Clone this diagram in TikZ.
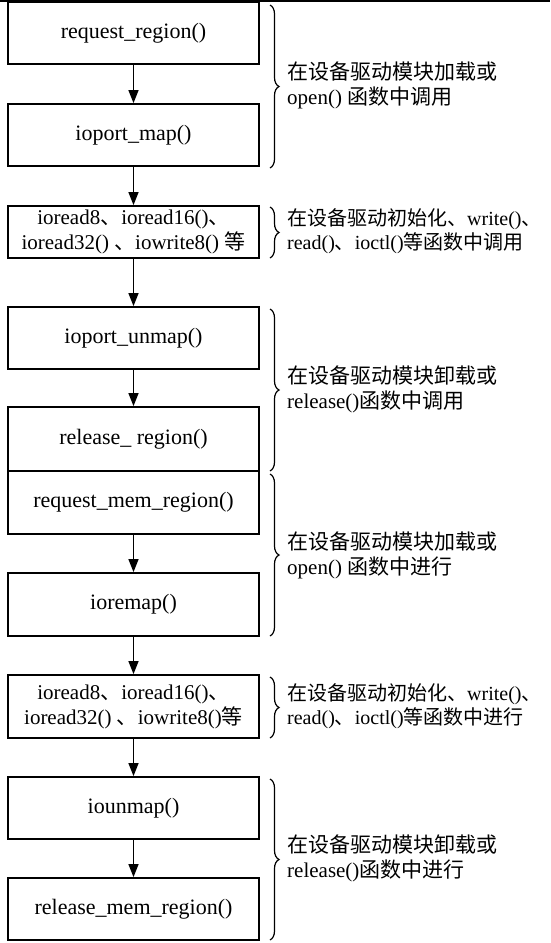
\documentclass[tikz,border=0pt]{standalone}
\usepackage{fontspec}
\setmainfont{Liberation Serif}
\newfontfamily\cjkfont{Noto Sans CJK SC}
\newcommand\zh[1]{{\cjkfont #1}}
\usetikzlibrary{arrows.meta,decorations.pathreplacing}

\begin{document}
\begin{tikzpicture}[x=1pt,y=-1pt,
  fnbox/.style={draw,line width=1.8pt,minimum width=251pt,inner sep=0pt,
                align=center,font=\fontsize{22}{25}\selectfont},
  twoline/.style={font=\fontsize{21}{25}\selectfont},
  flow/.style={line width=1.3pt,-{Triangle[width=10pt,length=13pt]}},
  grp/.style={decorate,decoration={brace,amplitude=9pt},line width=1.2pt},
  note/.style={anchor=west,align=left,inner sep=0pt,
               font=\fontsize{21}{25}\selectfont},
  widenote/.style={font=\fontsize{20}{24}\selectfont}]
\useasboundingbox (0,0) rectangle (550,943);

% rule along the top edge
\coordinate (tl) at (0,1);
\coordinate (tr) at (550,1);
\draw[line width=2pt] (tl) -- (tr);

% I/O port sequence
\node[fnbox,minimum height=62pt] (b1) at (133.5,33) {request\_region()};
\node[fnbox,minimum height=62pt] (b2) at (133.5,135) {ioport\_map()};
\node[fnbox,twoline,minimum height=52pt] (b3) at (133.5,232)
  {ioread8\zh{、}ioread16()\zh{、}\\ioread32() \zh{、}iowrite8() \zh{等}};
\node[fnbox,minimum height=62pt] (b4) at (133.5,338) {ioport\_unmap()};
\node[fnbox,minimum height=64pt] (b5) at (133.5,439) {release\_ region()};

% I/O memory sequence
\node[fnbox,minimum height=63pt] (b6) at (133.5,502.5) {request\_mem\_region()};
\node[fnbox,minimum height=63pt] (b7) at (133.5,604.5) {ioremap()};
\node[fnbox,twoline,minimum height=63pt] (b8) at (133.5,706.5)
  {ioread8\zh{、}ioread16()\zh{、}\\ioread32() \zh{、}iowrite8()\zh{等}};
\node[fnbox,minimum height=62pt] (b9) at (133.5,808) {iounmap()};
\node[fnbox,minimum height=62pt] (b10) at (133.5,909) {release\_mem\_region()};

\foreach \a/\b in {b1/b2,b2/b3,b3/b4,b4/b5,b6/b7,b7/b8,b8/b9,b9/b10}
  \draw[flow] (\a.south) -- (\b.north);

% braces grouping the calls
\coordinate (g1a) at (270,5);   \coordinate (g1b) at (270,168);
\coordinate (g2a) at (270,207); \coordinate (g2b) at (270,258);
\coordinate (g3a) at (270,309); \coordinate (g3b) at (270,471);
\coordinate (g4a) at (270,474); \coordinate (g4b) at (270,636);
\coordinate (g5a) at (270,677); \coordinate (g5b) at (270,738);
\coordinate (g6a) at (270,779); \coordinate (g6b) at (270,940);
\foreach \i in {1,...,6}
  \draw[grp] (g\i a) -- (g\i b);

\node[note] (n1) at (287,85)
  {\zh{在设备驱动模块加载或}\\open() \zh{函数中调用}};
\node[note,widenote] (n2) at (287,231)
  {\zh{在设备驱动初始化、}write()\zh{、}\\read()\zh{、}ioctl()\zh{等函数中调用}};
\node[note] (n3) at (287,389)
  {\zh{在设备驱动模块卸载或}\\release()\zh{函数中调用}};
\node[note] (n4) at (287,555)
  {\zh{在设备驱动模块加载或}\\open() \zh{函数中进行}};
\node[note,widenote] (n5) at (287,706)
  {\zh{在设备驱动初始化、}write()\zh{、}\\read()\zh{、}ioctl()\zh{等函数中进行}};
\node[note] (n6) at (287,858)
  {\zh{在设备驱动模块卸载或}\\release()\zh{函数中进行}};
\end{tikzpicture}
\end{document}
